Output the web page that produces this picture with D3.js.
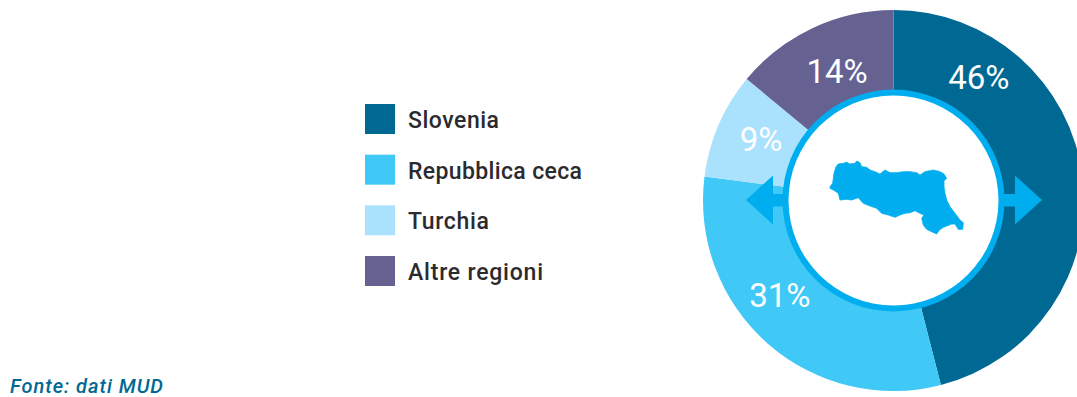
<!DOCTYPE html>
<html>
<head>
<meta charset="utf-8">
<script src="https://cdn.jsdelivr.net/npm/d3@7"></script>
<style>
  html, body { margin: 0; padding: 0; background: #fff; overflow: hidden; }
  svg { display: block; }
  text { font-family: "Roboto", sans-serif; }
</style>
</head>
<body>
<svg id="chart" width="1077" height="397"></svg>
<script>
// values
const categories = ["Slovenia", "Repubblica ceca", "Turchia", "Altre regioni"];
const values = [46, 31, 9, 14];
const colors = ["#006993", "#40c8f6", "#aae1fd", "#656292"];
const source = "Fonte: dati MUD";

// outline of the region (drawn in a 450x270 box)
const regionOutline = [
  [30,110],[38,100],[40,85],[42,70],[48,50],[55,42],[70,40],[80,37],[90,42],[105,40],[110,33],[120,38],
  [125,50],[140,52],[150,60],[165,65],[180,72],[195,60],[210,68],[230,68],[250,65],[270,65],[290,68],
  [300,75],[315,65],[340,60],[360,65],[372,72],[380,85],[372,92],[372,110],[375,130],[380,150],[390,170],
  [405,190],[420,210],[430,218],[428,238],[415,238],[405,222],[395,222],[370,232],[358,240],[350,252],
  [335,245],[320,238],[310,225],[305,205],[312,195],[300,190],[285,182],[270,188],[255,190],[240,195],
  [225,202],[205,195],[185,190],[170,175],[150,168],[130,160],[115,143],[95,150],[80,148],[60,150],
  [55,130],[40,120],[30,115]
];

const cx = 893.5, cy = 200.5;
const outerR = 190.5, ringOuter = 111, ringInner = 105;
const ringColor = "#00aeef";

const svg = d3.select("#chart");

// legend
const legendY = d3.scalePoint().domain(categories).range([104, 256]);
const legendWidths = [91, 174, 81, 135]; // the original face is narrower, so fit the run lengths
const legend = svg.append("g");
legend.selectAll("rect")
  .data(categories)
  .enter().append("rect")
  .attr("x", 365)
  .attr("y", d => legendY(d))
  .attr("width", 30)
  .attr("height", 30)
  .attr("fill", (d, i) => colors[i]);
legend.selectAll("text")
  .data(categories)
  .enter().append("text")
  .attr("x", 408)
  .attr("y", d => legendY(d) + 24)
  .attr("font-size", 23)
  .attr("font-weight", 500)
  .attr("textLength", (d, i) => legendWidths[i])
  .attr("fill", "#2b2a2e")
  .text(d => d);

svg.append("text")
  .attr("x", 10)
  .attr("y", 393)
  .attr("font-size", 20)
  .attr("font-style", "italic")
  .attr("font-weight", 500)
  .attr("textLength", 153)
  .attr("fill", "#006993")
  .text(source);

// donut
const g = svg.append("g").attr("transform", "translate(" + cx + "," + cy + ")");
const pie = d3.pie().sort(null)(values);
const arc = d3.arc().innerRadius(ringOuter - 2).outerRadius(outerR);
g.selectAll("path.slice")
  .data(pie)
  .enter().append("path")
  .attr("class", "slice")
  .attr("d", arc)
  .attr("fill", (d, i) => colors[i]);

// the labels sit off-centre in their slices, so keep radius + angle (deg) per label
const labelPolar = [[150, 34.7], [148, 230.2], [146, 294.9], [141, 336.4]];
g.selectAll("text.pct")
  .data(pie)
  .enter().append("text")
  .attr("class", "pct")
  .attr("x", (d, i) => labelPolar[i][0] * Math.sin(labelPolar[i][1] * Math.PI / 180))
  .attr("y", (d, i) => -labelPolar[i][0] * Math.cos(labelPolar[i][1] * Math.PI / 180))
  .attr("text-anchor", "middle")
  .attr("dominant-baseline", "central")
  .attr("font-size", 33)
  .attr("font-weight", 400)
  .attr("fill", "#fff")
  .text(d => d.value + "%");

// arrows either side of the ring
const arrow = d3.line();
const rightArrow = [[100, -6.5], [121.5, -6.5], [121.5, -25], [148.5, -0.5], [121.5, 24], [121.5, 6], [100, 6]];
g.append("path").attr("d", arrow(rightArrow) + "Z").attr("fill", ringColor);
const leftArrow = [[-100, -6.5], [-120.5, -6.5], [-120.5, -25], [-147.5, -0.5], [-120.5, 24], [-120.5, 6], [-100, 6]];
g.append("path").attr("d", arrow(leftArrow) + "Z").attr("fill", ringColor);

// centre ring
g.append("circle").attr("r", ringOuter).attr("fill", ringColor);
g.append("circle").attr("r", ringInner).attr("fill", "#fff");

// region shape
const mapX = d3.scaleLinear().domain([0, 450]).range([820, 970]);
const mapY = d3.scaleLinear().domain([0, 270]).range([150, 240]);
const regionLine = d3.line().x(d => mapX(d[0])).y(d => mapY(d[1])).curve(d3.curveLinearClosed);
svg.append("path")
  .attr("d", regionLine(regionOutline))
  .attr("fill", ringColor)
  .attr("stroke", ringColor)
  .attr("stroke-width", 0.8);
</script>
</body>
</html>
